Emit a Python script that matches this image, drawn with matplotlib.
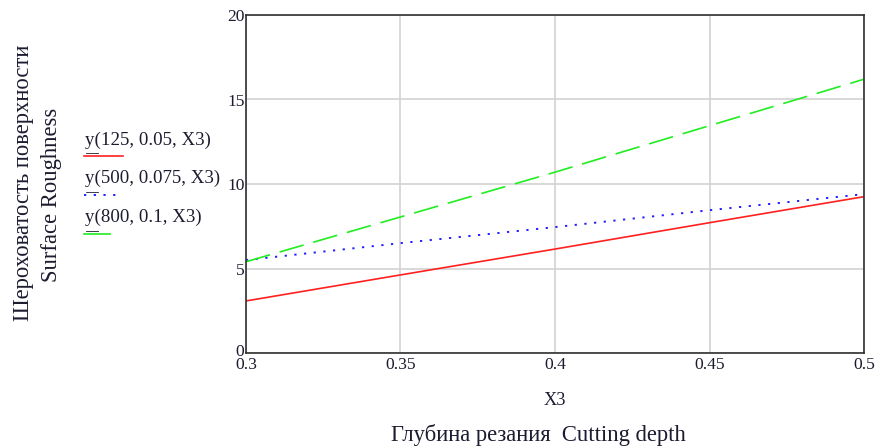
import matplotlib
matplotlib.use("Agg")
import matplotlib.pyplot as plt
import matplotlib.transforms as mtransforms
from matplotlib.lines import Line2D

# ---- data ----
x3 = [0.30, 0.35, 0.40, 0.45, 0.50]
y_125 = [3.08, 4.62, 6.15, 7.71, 9.25]
y_500 = [5.50, 6.50, 7.45, 8.45, 9.40]
y_800 = [5.40, 8.05, 10.70, 13.45, 16.20]
legend_labels = ["y(125, 0.05, X3)", "y(500, 0.075, X3)", "y(800, 0.1, X3)"]
x_ticks = [0.3, 0.35, 0.4, 0.45, 0.5]
x_tick_labels = ["0.3", "0.35", "0.4", "0.45", "0.5"]
y_ticks = [0, 5, 10, 15, 20]
y_tick_labels = ["0", "5", "10", "15", "20"]

plt.rcParams['lines.scale_dashes'] = False
plt.rcParams['font.family'] = ['Liberation Serif', 'DejaVu Serif']

W, H = 880, 448
fig = plt.figure(figsize=(W / 100, H / 100), dpi=100)
TXT = '#1c1c30'
FS_TICK = 12.6
FS_LEG = 13.6
FS_TITLE = 16.3

def fx(px):
    return px / W

def fy(py):
    return 1 - py / H

ax = fig.add_axes([fx(246), fy(353), fx(864) - fx(246), fy(15) - fy(353)])
ax.set_xlim(0.3, 0.5)
ax.set_ylim(0, 20)

ax.plot(x3, y_125, color='#ff2020', lw=1.2, solid_capstyle='butt')
ax.plot(x3, y_500, color='#2020ff', lw=1.4, linestyle=(0, (1.6, 5.4)))
ax.plot(x3, y_800, color='#20ee20', lw=1.2, linestyle=(0, (18, 7.2)))

ax.set_xticks(x_ticks)
ax.set_xticklabels(x_tick_labels)
ax.set_yticks(y_ticks)
ax.set_yticklabels(y_tick_labels)
ax.tick_params(axis='both', length=0, labelsize=FS_TICK, labelcolor=TXT)
ax.tick_params(axis='x', pad=3)
ax.tick_params(axis='y', pad=1)
ax.grid(True, color='#d2d2d2', lw=1.2)
ax.set_axisbelow(True)
for sp in ax.spines.values():
    sp.set_color('#303030')
    sp.set_linewidth(1.2)

# nudge the "0" y label up a little so it only touches the "0.3" label
zero_lbl = ax.get_yticklabels()[0]
zero_lbl.set_transform(zero_lbl.get_transform() +
                       mtransforms.ScaledTranslation(0, 3 / 100, fig.dpi_scale_trans))

# axis titles
fig.text(fx(555), fy(400), "X3", ha='center', va='center', fontsize=FS_TICK + 0.6, color=TXT)
fig.text(fx(538), fy(435), "Глубина резания  Cutting depth", ha='center', va='center',
         fontsize=FS_TITLE, color=TXT)
fig.text(fx(24), fy(183), "Шероховатость поверхности", ha='center', va='center',
         rotation=90, fontsize=FS_TITLE, color=TXT)
fig.text(fx(51), fy(195), "Surface Roughness", ha='center', va='center',
         rotation=90, fontsize=FS_TITLE, color=TXT)

# legend (Mathcad style)
text_y = [140, 178, 217]
line_y = [156, 195, 234]
line_x1 = [123, 116, 110]
styles = [dict(color='#ff2020', lw=1.2),
          dict(color='#2020ff', lw=1.4, linestyle=(0, (1.6, 5.4))),
          dict(color='#20ee20', lw=1.2)]
for lbl, ty, ly, x1, st in zip(legend_labels, text_y, line_y, line_x1, styles):
    fig.text(fx(85), fy(ty), lbl, ha='left', va='center', fontsize=FS_LEG, color=TXT)
    fig.add_artist(Line2D([fx(84), fx(x1)], [fy(ly), fy(ly)], transform=fig.transFigure, **st))
    fig.add_artist(Line2D([fx(86), fx(98)], [fy(ly - 3), fy(ly - 3)], transform=fig.transFigure,
                          color=TXT, lw=0.6))

fig.savefig("out.png", dpi=100)
